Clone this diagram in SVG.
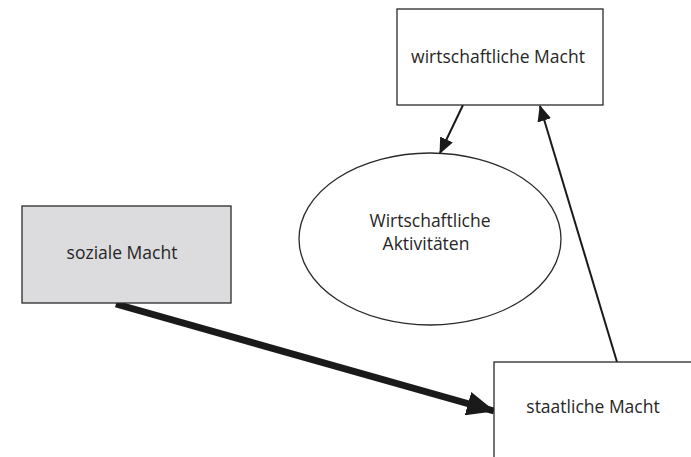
<svg xmlns="http://www.w3.org/2000/svg" width="691" height="457" viewBox="0 0 691 457">
<style>
.box{stroke:#2a2a2a;stroke-width:1.3;fill:#ffffff}
.grey{fill:#dcdcde}
.lbl{font-family:"Open Sans","Liberation Sans",sans-serif;font-size:17.5px;fill:#262626;text-anchor:middle}
.thin{stroke:#1a1a1a;stroke-width:2;fill:none}
.thick{stroke:#1a1a1a;stroke-width:7;fill:none}
</style>
<defs>
<marker id="ah" markerUnits="userSpaceOnUse" markerWidth="16" markerHeight="14" refX="15" refY="7" orient="auto"><path d="M0,0 L16,7 L0,14 Z" fill="#1a1a1a"/></marker>
<marker id="ahb" markerUnits="userSpaceOnUse" markerWidth="28" markerHeight="24" refX="27" refY="12" orient="auto"><path d="M0,0 L28,12 L0,24 Z" fill="#1a1a1a"/></marker>
</defs>
<rect width="691" height="457" fill="#ffffff"/>
<g id="connectors">
<line class="thin" x1="463" y1="105" x2="440" y2="153" marker-end="url(#ah)"/>
<line class="thin" x1="617" y1="362" x2="540" y2="106" marker-end="url(#ah)"/>
<line class="thick" x1="116" y1="304" x2="494" y2="411" marker-end="url(#ahb)"/>
</g>
<g id="wirtschaftliche-macht">
<rect class="box" x="397" y="9" width="206" height="96"/>
<text class="lbl" x="498" y="63">wirtschaftliche Macht</text>
</g>
<g id="wirtschaftliche-aktivitaeten">
<ellipse class="box" cx="430" cy="239" rx="131" ry="86"/>
<text class="lbl" x="430" y="227">Wirtschaftliche</text>
<text class="lbl" x="426" y="250">Aktivitäten</text>
</g>
<g id="soziale-macht">
<rect class="box grey" x="22" y="206" width="209" height="97"/>
<text class="lbl" x="122" y="259">soziale Macht</text>
</g>
<g id="staatliche-macht">
<rect class="box" x="494" y="362" width="210" height="110"/>
<text class="lbl" x="593" y="413">staatliche Macht</text>
</g>
</svg>
